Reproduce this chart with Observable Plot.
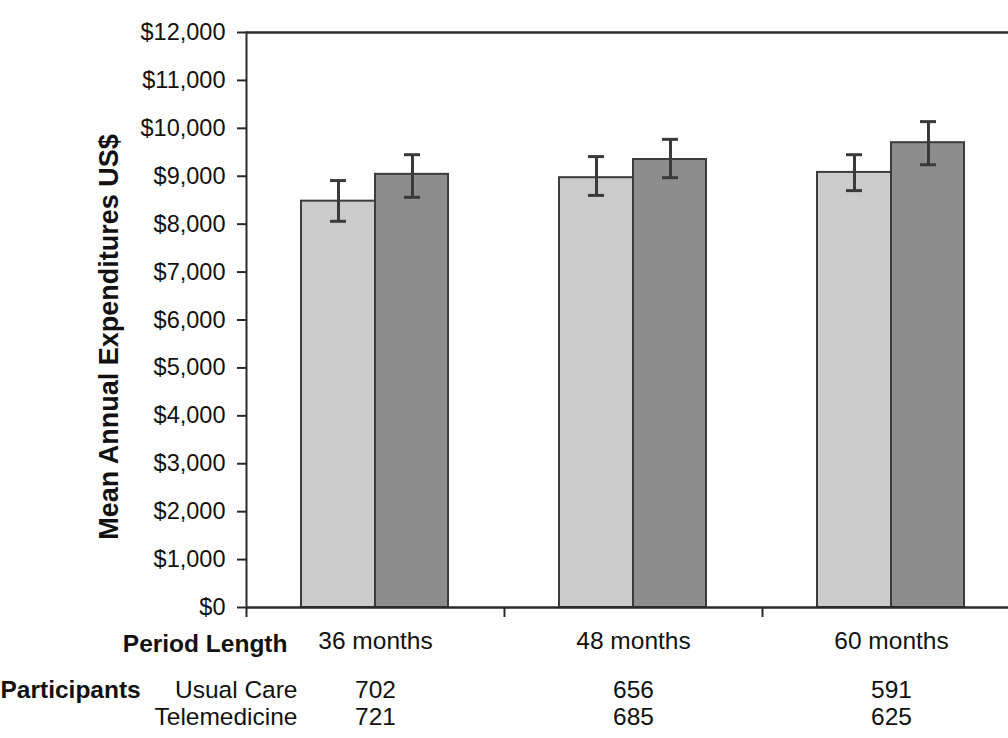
<!DOCTYPE html>
<html><head><meta charset="utf-8">
<script src="https://cdn.jsdelivr.net/npm/d3@7"></script>
<script src="https://cdn.jsdelivr.net/npm/@observablehq/plot@0.6"></script>
<style>html,body{margin:0;padding:0;background:#fff;overflow:hidden} svg{display:block}</style>
</head><body><div id="chart"></div>
<script>
// ---- data ----
const periods = ["36 months", "48 months", "60 months"];
const usualCare = [8480, 8970, 9080];
const usualCareLow = [8060, 8600, 8700];
const usualCareHigh = [8910, 9410, 9450];
const telemedicine = [9040, 9350, 9700];
const telemedicineLow = [8560, 8970, 9240];
const telemedicineHigh = [9450, 9770, 10140];
const participantsUsualCare = [702, 656, 591];
const participantsTelemedicine = [721, 685, 625];
const yTicks = [0, 1000, 2000, 3000, 4000, 5000, 6000, 7000, 8000, 9000, 10000, 11000, 12000];
const yLabel = "Mean Annual Expenditures US$";
const rowLabel = "Period Length";
const participantsLabel = "Participants";
const seriesLabels = ["Usual Care", "Telemedicine"];

// ---- layout ----
const W = 1008, H = 738;
const mL = 246, mR = -12, mT = 32, mB = 131;
const band = (W - mL - mR) / periods.length;
const barW = 74;
const capW = 16;
const font = "Liberation Sans, Arial, Helvetica, sans-serif";
const ink = "#2a2a2a";
const fs = 24.5;

const rows = periods.map((p, i) => ({
  period: p,
  uc: usualCare[i], ucLo: usualCareLow[i], ucHi: usualCareHigh[i],
  tm: telemedicine[i], tmLo: telemedicineLow[i], tmHi: telemedicineHigh[i],
  ucN: participantsUsualCare[i], tmN: participantsTelemedicine[i]
}));

const half = band / 2;
const capInset = (band - capW) / 2;

const chart = Plot.plot({
  width: W, height: H,
  marginLeft: mL, marginRight: mR, marginTop: mT, marginBottom: mB,
  style: {fontFamily: font, background: "#fff", color: "#111"},
  x: {type: "band", domain: periods, padding: 0, axis: null, label: null},
  y: {domain: [0, 12000], axis: null, label: null},
  marks: [
    // bars
    Plot.barY(rows, {x: "period", y: "uc", fill: "#cbcbcb", stroke: "#3c3c3c", strokeWidth: 2,
      insetLeft: half - barW, insetRight: half}),
    Plot.barY(rows, {x: "period", y: "tm", fill: "#8d8d8d", stroke: "#3c3c3c", strokeWidth: 2,
      insetLeft: half, insetRight: half - barW + 1}),
    // error bars
    Plot.ruleX(rows, {x: "period", y1: "ucLo", y2: "ucHi", dx: -barW / 2, stroke: "#3a3a3a", strokeWidth: 3}),
    Plot.ruleX(rows, {x: "period", y1: "tmLo", y2: "tmHi", dx: barW / 2, stroke: "#3a3a3a", strokeWidth: 3}),
    Plot.tickY(rows, {x: "period", y: "ucLo", dx: -barW / 2, insetLeft: capInset, insetRight: capInset, stroke: "#3a3a3a", strokeWidth: 3}),
    Plot.tickY(rows, {x: "period", y: "ucHi", dx: -barW / 2, insetLeft: capInset, insetRight: capInset, stroke: "#3a3a3a", strokeWidth: 3}),
    Plot.tickY(rows, {x: "period", y: "tmLo", dx: barW / 2, insetLeft: capInset, insetRight: capInset, stroke: "#3a3a3a", strokeWidth: 3}),
    Plot.tickY(rows, {x: "period", y: "tmHi", dx: barW / 2, insetLeft: capInset, insetRight: capInset, stroke: "#3a3a3a", strokeWidth: 3}),
    // frame lines
    Plot.ruleY([0, 12000], {stroke: ink, strokeWidth: 2.5}),
    Plot.frame({anchor: "left", stroke: ink, strokeWidth: 2}),
    // y axis
    Plot.axisY(yTicks, {tickSize: 9, tickPadding: 12, tickFormat: d3.format("$,"), fontSize: 23.5,
      stroke: ink, strokeWidth: 2, fill: "#111", label: null}),
    // category boundary ticks on x axis
    Plot.axisX({tickSize: 10, tickFormat: () => "", dx: -half, stroke: ink, strokeWidth: 2, label: null}),
    // category labels
    Plot.text(periods, {x: d => d, frameAnchor: "bottom", dy: 41, fontSize: fs, fill: "#111"}),
    // participants counts
    Plot.text(rows, {x: "period", text: "ucN", frameAnchor: "bottom", dy: 90, fontSize: fs, fill: "#111"}),
    Plot.text(rows, {x: "period", text: "tmN", frameAnchor: "bottom", dy: 117, fontSize: fs, fill: "#111"}),
    // row labels
    Plot.text([rowLabel], {text: d => d, frameAnchor: "bottom-left", textAnchor: "end", dx: 41, dy: 44,
      fontSize: fs, fontWeight: "bold", fill: "#111"}),
    Plot.text([participantsLabel], {text: d => d, frameAnchor: "bottom-left", textAnchor: "start", dx: -mL, dy: 90,
      fontSize: fs, fontWeight: "bold", fill: "#111"}),
    Plot.text([seriesLabels[0]], {text: d => d, frameAnchor: "bottom-left", textAnchor: "end", dx: 51, dy: 90,
      fontSize: fs, fill: "#111"}),
    Plot.text([seriesLabels[1]], {text: d => d, frameAnchor: "bottom-left", textAnchor: "end", dx: 51, dy: 117,
      fontSize: fs, fill: "#111"}),
    // y title
    Plot.text([yLabel], {text: d => d, frameAnchor: "left", textAnchor: "middle", rotate: -90, dx: -137, dy: 17,
      fontSize: 27, fontWeight: "bold", fill: "#111"})
  ]
});
document.getElementById("chart").appendChild(chart);
</script>
</body></html>
